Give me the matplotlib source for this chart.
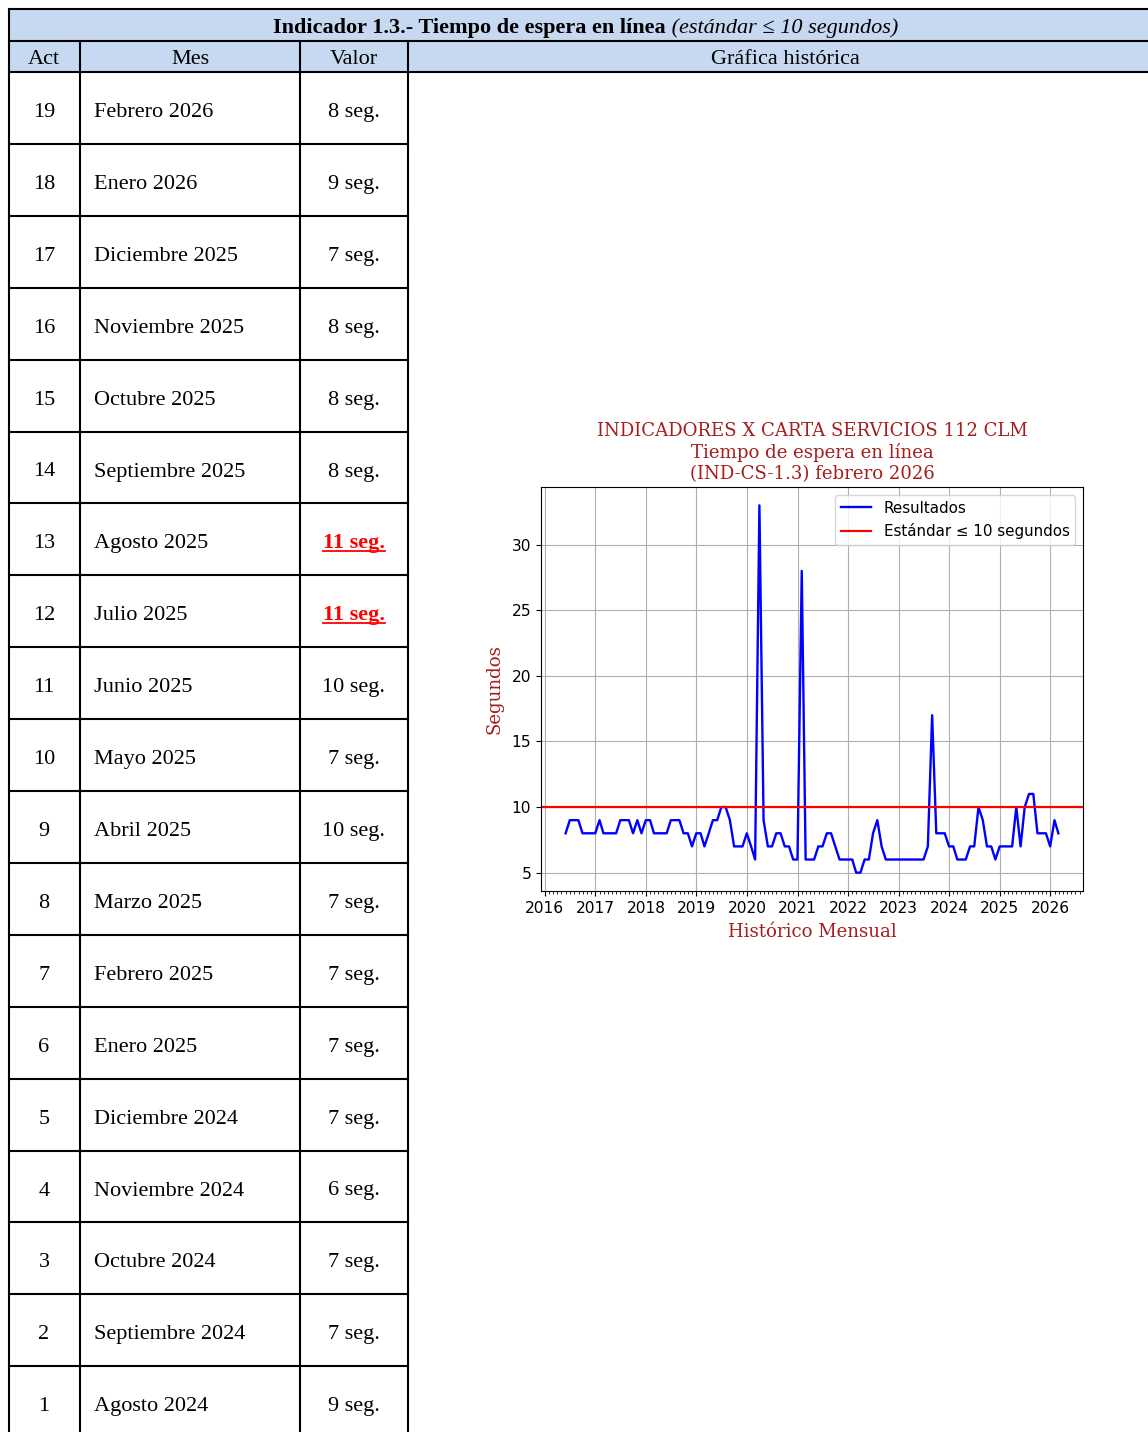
import pandas as pd
import matplotlib
matplotlib.use('Agg')
import matplotlib.pyplot as plt
import matplotlib.dates as mdates
from matplotlib.patches import Rectangle

# Serie mensual en segundos (mayo 2016 - febrero 2026)
valores = [
    8, 9, 9, 9, 8, 8, 8, 8,                    # 2016 (may-dic)
    9, 8, 8, 8, 8, 9, 9, 9, 8, 9, 8, 9,        # 2017
    9, 8, 8, 8, 8, 9, 9, 9, 8, 8, 7, 8,        # 2018
    8, 7, 8, 9, 9, 10, 10, 9, 7, 7, 7, 8,      # 2019
    7, 6, 33, 9, 7, 7, 8, 8, 7, 7, 6, 6,       # 2020
    28, 6, 6, 6, 7, 7, 8, 8, 7, 6, 6, 6,       # 2021
    6, 5, 5, 6, 6, 8, 9, 7, 6, 6, 6, 6,        # 2022
    6, 6, 6, 6, 6, 6, 7, 17, 8, 8, 8, 7,       # 2023
    7, 6, 6, 6, 7, 7, 10, 9, 7, 7, 6, 7,       # 2024
    7, 7, 7, 10, 7, 10, 11, 11, 8, 8, 8, 7,    # 2025
    9, 8,                                      # 2026
]
fechas = pd.date_range('2016-05-31', periods=len(valores), freq='ME')
estandar = 10

# Tabla de los ultimos meses
act = list(range(19, 0, -1))
meses = ["Febrero 2026", "Enero 2026", "Diciembre 2025", "Noviembre 2025",
         "Octubre 2025", "Septiembre 2025", "Agosto 2025", "Julio 2025",
         "Junio 2025", "Mayo 2025", "Abril 2025", "Marzo 2025", "Febrero 2025",
         "Enero 2025", "Diciembre 2024", "Noviembre 2024", "Octubre 2024",
         "Septiembre 2024", "Agosto 2024"]
valor_tabla = [8, 9, 7, 8, 8, 8, 11, 11, 10, 7, 10, 7, 7, 7, 7, 6, 7, 7, 9]

W, H = 1148, 1432
fig = plt.figure(figsize=(W / 100, H / 100), dpi=100)

# fondo en coordenadas de pixel para dibujar la tabla
bg = fig.add_axes([0, 0, 1, 1])
bg.set_xlim(0, W)
bg.set_ylim(H, 0)
bg.axis('off')

serif = ['Liberation Serif', 'DejaVu Serif']
fs = 16
lw = 1.5
x0, c1, c2, c3, x_end = 9, 80, 300, 408, 1165
y0, y_head, y_rows = 9, 41, 72
row_h = 71.9

bg.add_patch(Rectangle((x0, y0), x_end - x0, y_rows - y0, color='#c6d9f1', lw=0))
for y in (y0, y_head, y_rows):
    bg.plot([x0, x_end], [y, y], color='black', lw=lw)
for k in range(1, len(meses) + 1):
    y = y_rows + k * row_h
    bg.plot([x0, c3], [y, y], color='black', lw=lw)
bg.plot([x0, x0], [y0, H + 5], color='black', lw=lw)
for x in (c1, c2, c3):
    bg.plot([x, x], [y_head, H + 5], color='black', lw=lw)

# cabecera
bg.text(44, 64, 'Act', ha='center', va='baseline', family=serif, fontsize=fs)
bg.text(190, 64, 'Mes', ha='center', va='baseline', family=serif, fontsize=fs)
bg.text(354, 64, 'Valor', ha='center', va='baseline', family=serif, fontsize=fs)
bg.text(785, 64, 'Gráfica histórica', ha='center', va='baseline', family=serif, fontsize=fs)

t1 = bg.text(0, 33, 'Indicador 1.3.- Tiempo de espera en línea', ha='left', va='baseline',
             family=serif, fontsize=fs, fontweight='bold')
t2 = bg.text(0, 33, ' (estándar ≤ 10 segundos)', ha='left', va='baseline',
             family=serif, fontsize=fs, style='italic')

rojos = []
for i, (a, m, v) in enumerate(zip(act, meses, valor_tabla)):
    yb = y_rows + i * row_h + 45
    bg.text(44, yb, str(a), ha='center', va='baseline', family=serif, fontsize=fs)
    bg.text(94, yb, m, ha='left', va='baseline', family=serif, fontsize=fs)
    if v > estandar:
        t = bg.text(354, yb, f'{v} seg.', ha='center', va='baseline', family=serif,
                    fontsize=fs, color='red', fontweight='bold')
        rojos.append((t, yb))
    else:
        bg.text(354, yb, f'{v} seg.', ha='center', va='baseline', family=serif, fontsize=fs)

# grafica
rojo_osc = '#a51d1d'
ax = fig.add_axes([541 / W, 1 - 891 / H, 542 / W, 404 / H])
ax.plot(fechas, valores, color='blue', lw=1.7, label='Resultados')
ax.axhline(estandar, color='red', lw=1.6, label='Estándar ≤ 10 segundos')
ax.grid(True)
ax.xaxis.set_major_locator(mdates.YearLocator())
ax.xaxis.set_major_formatter(mdates.DateFormatter('%Y'))
ax.xaxis.set_minor_locator(mdates.MonthLocator())
ax.tick_params(labelsize=11.2)
ax.set_title('INDICADORES X CARTA SERVICIOS 112 CLM\nTiempo de espera en línea\n(IND-CS-1.3) febrero 2026',
             color=rojo_osc, family='DejaVu Serif', fontsize=13.1, pad=6)
ax.set_ylabel('Segundos', color=rojo_osc, family='DejaVu Serif', fontsize=13.1, labelpad=6)
ax.set_xlabel('Histórico Mensual', color=rojo_osc, family='DejaVu Serif', fontsize=13.1, labelpad=5)
ax.legend(loc='upper right', fontsize=10.9)

# centrar el titulo de la tabla y subrayar los valores fuera de estandar
fig.canvas.draw()
r = fig.canvas.get_renderer()
w1 = t1.get_window_extent(r).width
w2 = t2.get_window_extent(r).width
start = 585.5 - (w1 + w2) / 2
t1.set_x(start)
t2.set_x(start + w1)
for t, yb in rojos:
    bb = t.get_window_extent(r)
    bg.plot([bb.x0, bb.x1], [yb + 3, yb + 3], color='red', lw=1.3)

fig.savefig('out.png', dpi=100)
